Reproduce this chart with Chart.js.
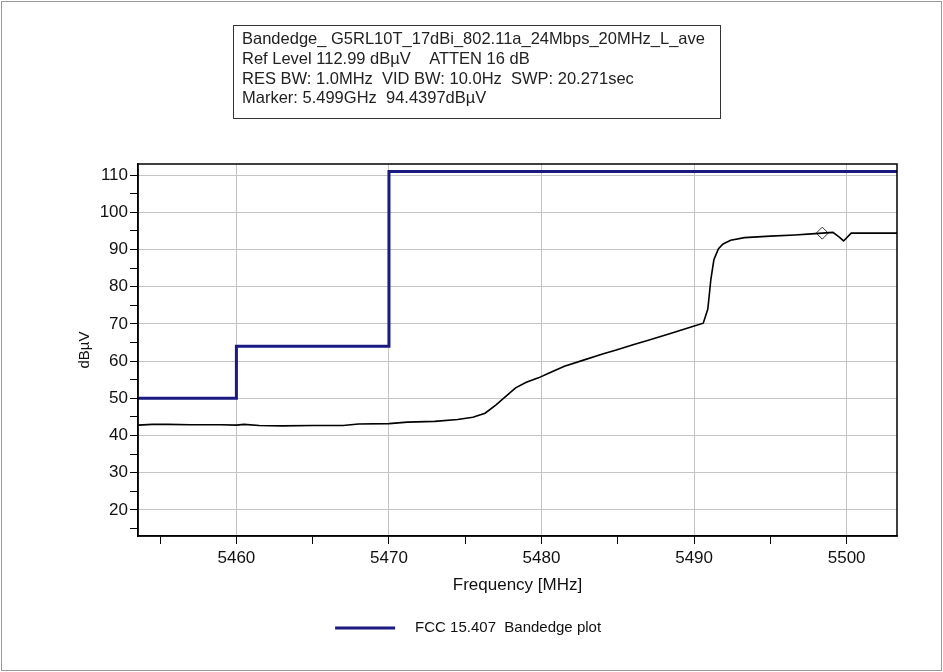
<!DOCTYPE html>
<html>
<head>
<meta charset="utf-8">
<script src="https://cdn.jsdelivr.net/npm/chart.js@4"></script>
<style>
  body { margin: 0; background: #fff; }
</style>
</head>
<body>
<canvas id="chart" width="943" height="672"></canvas>
<script>
const traceFreq = [5453.55, 5454.5, 5455.5, 5457, 5459, 5460, 5460.5, 5461.5, 5463, 5465, 5467, 5468, 5470,
  5471.2, 5473, 5474.5, 5475.5, 5476.3, 5477, 5477.6, 5478.3, 5479, 5479.8, 5480.5, 5481.5, 5482.7, 5484,
  5484.9, 5486, 5487, 5488.5, 5489.8, 5490.6, 5490.9, 5491.1, 5491.3, 5491.6, 5491.9, 5492.4, 5493.3, 5495,
  5496.6, 5497.7, 5498.4, 5499.1, 5499.5, 5499.8, 5500.3, 5501.5, 5503.3];
const traceLevel = [42.8, 43.0, 43.0, 42.9, 42.9, 42.8, 43.0, 42.7, 42.6, 42.7, 42.7, 43.1, 43.2,
  43.6, 43.8, 44.3, 44.9, 46.0, 48.2, 50.3, 52.8, 54.3, 55.5, 56.8, 58.6, 60.2, 61.9,
  63.0, 64.4, 65.6, 67.5, 69.2, 70.2, 74, 82, 87.3, 90.2, 91.5, 92.5, 93.2, 93.6,
  93.9, 94.2, 94.4, 94.6, 93.4, 92.3, 94.4, 94.4, 94.4];

// FCC 15.407 limit steps
const limitFreq = [5453.55, 5460, 5460, 5470, 5470, 5503.3];
const limitLevel = [50, 50, 64, 64, 111, 111];

// marker
const markerFreq = [5498.4];
const markerLevel = [94.4];

const xTickValues = [5455, 5460, 5465, 5470, 5475, 5480, 5485, 5490, 5495, 5500];
const yTickValues = [15, 20, 25, 30, 35, 40, 45, 50, 55, 60, 65, 70, 75, 80, 85, 90, 95, 100, 105, 110];

const infoLines = [
  'Bandedge_ G5RL10T_17dBi_802.11a_24Mbps_20MHz_L_ave',
  'Ref Level 112.99 dB\u00b5V    ATTEN 16 dB',
  'RES BW: 1.0MHz  VID BW: 10.0Hz  SWP: 20.271sec',
  'Marker: 5.499GHz  94.4397dB\u00b5V'
];
const legendLabel = '   FCC 15.407  Bandedge plot     ';

const toPoints = (xs, ys) => xs.map((x, i) => ({ x: x, y: ys[i] }));
const FONT = "'Liberation Sans', Arial, sans-serif";

Chart.defaults.font.family = FONT;
Chart.defaults.font.size = 17;
Chart.defaults.color = '#111';

const framePlugin = {
  id: 'frame',
  beforeDraw(chart) {
    const c = chart.ctx;
    c.save();
    c.fillStyle = '#fff';
    c.fillRect(0, 0, chart.width, chart.height);
    c.restore();
  },
  afterDraw(chart) {
    const c = chart.ctx, a = chart.chartArea;
    c.save();
    c.strokeStyle = '#000';
    c.lineWidth = 1.5;
    c.strokeRect(a.left, a.top, a.right - a.left, a.bottom - a.top);
    c.strokeStyle = '#9a9a9a';
    c.lineWidth = 1;
    c.strokeRect(1.5, 1.5, chart.width - 3, chart.height - 3);
    // info box
    c.strokeStyle = '#333';
    c.strokeRect(233.5, 25.5, 487, 93);
    c.fillStyle = '#222';
    c.font = '16.5px ' + FONT;
    c.textBaseline = 'middle';
    infoLines.forEach((t, i) => c.fillText(t, 242, 39.5 + i * 19.8));
    c.restore();
  }
};

const majorOnly = v => (v % 10 === 0 ? String(v) : '');

new Chart(document.getElementById('chart').getContext('2d'), {
  type: 'line',
  data: {
    datasets: [
      {
        label: 'trace',
        data: toPoints(traceFreq, traceLevel),
        borderColor: '#000',
        borderWidth: 1.6,
        pointRadius: 0,
        tension: 0
      },
      {
        label: legendLabel,
        data: toPoints(limitFreq, limitLevel),
        borderColor: '#1a1a82',
        backgroundColor: '#1a1a82',
        borderWidth: 3,
        pointRadius: 0,
        pointStyle: 'line',
        tension: 0
      },
      {
        label: 'marker',
        data: toPoints(markerFreq, markerLevel),
        showLine: false,
        pointStyle: 'rectRot',
        pointRadius: 6,
        pointBorderColor: '#333',
        pointBackgroundColor: 'rgba(255,255,255,0.6)',
        pointBorderWidth: 1
      }
    ]
  },
  options: {
    responsive: false,
    animation: false,
    layout: { padding: { top: 164, left: 60, right: 46, bottom: 26.5 } },
    plugins: {
      tooltip: { enabled: false },
      legend: {
        position: 'bottom',
        labels: {
          filter: item => item.datasetIndex === 1,
          usePointStyle: true,
          pointStyle: 'line',
          pointStyleWidth: 60,
          padding: 24.5,
          color: '#111',
          font: { size: 15 }
        }
      }
    },
    scales: {
      x: {
        type: 'linear',
        min: 5453.55,
        max: 5503.3,
        afterBuildTicks: s => { s.ticks = xTickValues.map(v => ({ value: v })); },
        afterFit: s => { s.height = 60; },
        ticks: { autoSkip: false, maxRotation: 0, padding: 4, callback: majorOnly },
        grid: {
          color: c => (c.tick && c.tick.value % 10 === 0 ? '#c4c4c4' : 'rgba(0,0,0,0)'),
          tickColor: '#000',
          tickLength: 8,
          lineWidth: 1
        },
        border: { color: '#000', width: 1.5 },
        title: { display: true, text: 'Frequency [MHz]', padding: { top: 4, bottom: 0 } }
      },
      y: {
        type: 'linear',
        min: 12.99,
        max: 112.99,
        afterBuildTicks: s => { s.ticks = yTickValues.map(v => ({ value: v })); },
        afterFit: s => { s.width = 78; },
        ticks: { autoSkip: false, padding: 2, callback: majorOnly },
        grid: {
          color: c => (c.tick && c.tick.value % 10 === 0 ? '#c4c4c4' : 'rgba(0,0,0,0)'),
          tickColor: '#000',
          tickLength: 8,
          lineWidth: 1
        },
        border: { color: '#000', width: 1.5 },
        title: { display: true, text: 'dB\u00b5V', font: { size: 15 }, padding: { top: 16, bottom: 0 } }
      }
    }
  },
  plugins: [framePlugin]
});
</script>
</body>
</html>
